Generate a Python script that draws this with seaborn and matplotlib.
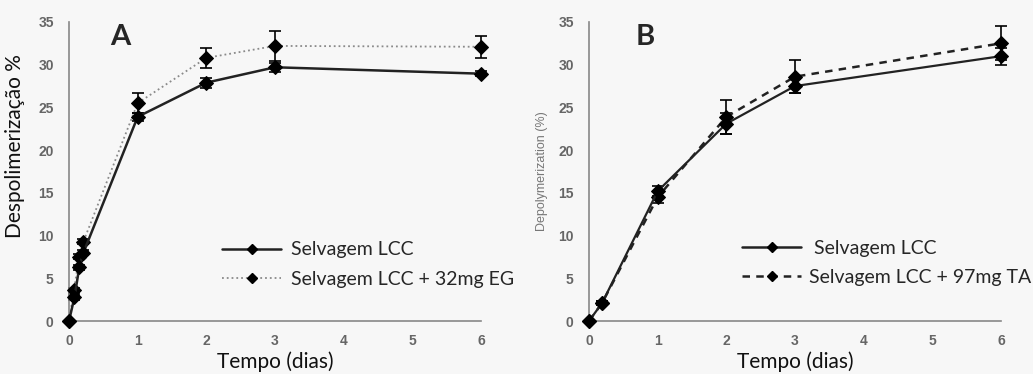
import numpy as np
import pandas as pd
import matplotlib
matplotlib.use("Agg")
import matplotlib.pyplot as plt
import seaborn as sns
from matplotlib.lines import Line2D

# ---- Data ----
a_days_wt = [0, 0.08, 0.15, 0.21, 1, 2, 3, 6]
a_wt = [0, 2.8, 6.3, 8.0, 23.9, 27.9, 29.7, 28.95]
a_wt_err = [0, 0.3, 0.3, 0.3, 0.5, 0.6, 0.5, 0.3]
a_days_eg = [0, 0.07, 0.15, 0.21, 1, 2, 3, 6]
a_eg = [0, 3.6, 7.5, 9.3, 25.5, 30.8, 32.2, 32.1]
a_eg_err = [0, 0.3, 0.3, 0.3, 1.2, 1.15, 1.8, 1.3]

b_days = [0, 0.19, 1, 2, 3, 6]
b_wt = [0, 2.1, 15.2, 23.1, 27.5, 31.0]
b_wt_err = [0, 0.2, 0.6, 1.2, 0.8, 1.0]
b_ta = [0, 2.1, 14.5, 23.9, 28.6, 32.5]
b_ta_err = [0, 0.2, 0.7, 2.0, 1.9, 2.0]

xticks = [0, 1, 2, 3, 4, 5, 6]
yticks = [0, 5, 10, 15, 20, 25, 30, 35]
lab_wt = "Selvagem LCC"
lab_eg = "Selvagem LCC + 32mg EG"
lab_ta = "Selvagem LCC + 97mg TA"

sns.set_style("white")
plt.rcParams['font.family'] = ['Lato', 'DejaVu Sans']

bg = "#f7f7f7"
fig = plt.figure(figsize=(10.33, 3.74), dpi=100, facecolor=bg)
axA = fig.add_axes([0.0668, 0.1417, 0.3988, 0.7995])
axB = fig.add_axes([0.5702, 0.1417, 0.3988, 0.7995])

def series(ax, x, y, err, color, ls, lw):
    df = pd.DataFrame({"x": x, "y": y})
    sns.lineplot(data=df, x="x", y="y", ax=ax, color=color, linestyle=ls,
                 linewidth=lw, marker="D", markersize=7, markerfacecolor="black",
                 markeredgecolor="black", zorder=3, clip_on=False)
    ax.errorbar(x, y, yerr=err, fmt="none", ecolor="black", elinewidth=1.2,
                capsize=4, capthick=1.2, zorder=2, clip_on=False)

series(axA, a_days_eg, a_eg, a_eg_err, "#8a8a8a", ":", 1.3)
series(axA, a_days_wt, a_wt, a_wt_err, "#222222", "-", 1.8)
series(axB, b_days, b_ta, b_ta_err, "#222222", (0, (3, 2.5)), 1.8)
series(axB, b_days, b_wt, b_wt_err, "#222222", "-", 1.6)

for ax in (axA, axB):
    ax.set_facecolor(bg)
    ax.set_xlim(0, 6)
    ax.set_ylim(0, 35)
    ax.set_xticks(xticks)
    ax.set_yticks(yticks)
    for s in ("top", "right"):
        ax.spines[s].set_visible(False)
    for s in ("left", "bottom"):
        ax.spines[s].set_color("#888888")
        ax.spines[s].set_linewidth(1.2)
    ax.tick_params(axis="both", direction="out", length=4, width=1.2,
                   color="#888888", labelcolor="#666666", labelsize=10)
    ax.tick_params(axis="y", pad=7)
    ax.tick_params(axis="x", pad=5)
    for lbl in ax.get_xticklabels() + ax.get_yticklabels():
        lbl.set_family(["Liberation Sans", "DejaVu Sans"])
        lbl.set_fontweight("bold")
    ax.set_xlabel("Tempo (dias)", fontsize=15, color="#111111", labelpad=3)

axA.set_ylabel("Despolimerização %", fontsize=15, color="#111111")
axA.yaxis.set_label_coords(-0.106, 0.585)
axB.set_ylabel("Depolymerization (%)", fontsize=9, color="#777777",
               family=["Liberation Sans", "DejaVu Sans"])
axB.yaxis.set_label_coords(-0.1, 0.5)

axA.text(0.10, 0.95, "A", transform=axA.transAxes, fontsize=21,
         fontweight="bold", ha="left", va="center")
axB.text(0.112, 0.95, "B", transform=axB.transAxes, fontsize=21,
         fontweight="bold", ha="left", va="center")

def handles(ls2, c2, lw2):
    return [Line2D([], [], color="#222222", ls="-", lw=1.8, marker="D", markersize=5,
                   markerfacecolor="black", markeredgecolor="black"),
            Line2D([], [], color=c2, ls=ls2, lw=lw2, marker="D", markersize=5,
                   markerfacecolor="black", markeredgecolor="black")]

axA.legend(handles(":", "#8a8a8a", 1.3), [lab_wt, lab_eg], loc="center left",
           bbox_to_anchor=(0.33, 0.188), frameon=False, fontsize=14,
           handlelength=3.0, handletextpad=0.55, labelspacing=0.65)
axB.legend(handles((0, (3, 2.5)), "#222222", 1.8), [" " + lab_wt, lab_ta],
           loc="center left", bbox_to_anchor=(0.33, 0.195), frameon=False,
           fontsize=14, handlelength=3.0, handletextpad=0.4, labelspacing=0.6)

fig.savefig("out.png", dpi=100, facecolor=bg)
